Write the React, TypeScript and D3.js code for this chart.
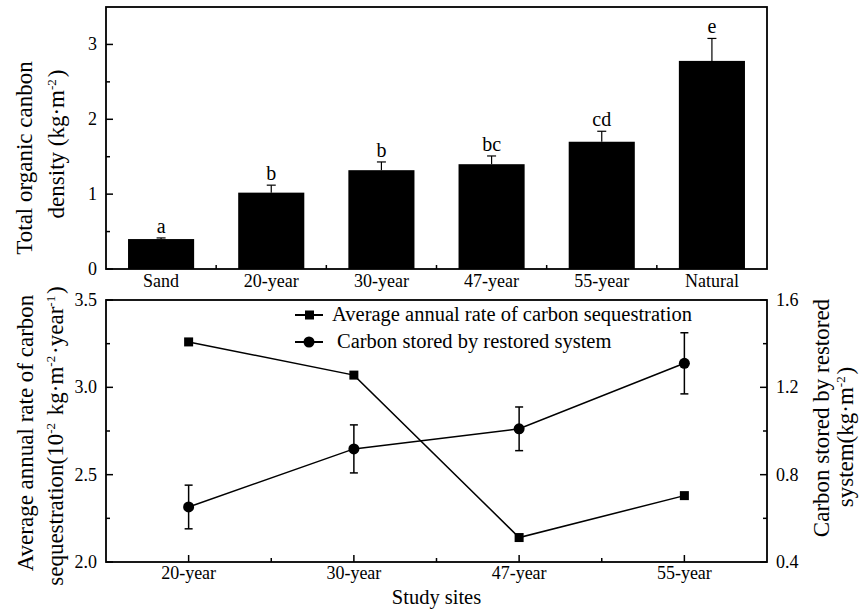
import React from "react";
import * as d3 from "d3";

// top panel: total organic carbon density
const barCategories = ["Sand", "20-year", "30-year", "47-year", "55-year", "Natural"];
const tocDensity = [0.4, 1.02, 1.32, 1.4, 1.7, 2.78];
const tocError = [0.015, 0.1, 0.11, 0.11, 0.14, 0.3];
const sigLetters = ["a", "b", "b", "bc", "cd", "e"];
const topTicks = [0, 1, 2, 3];
const topMinor = [0.5, 1.5, 2.5];

// bottom panel: rate of sequestration and stored carbon
const siteCategories = ["20-year", "30-year", "47-year", "55-year"];
const sequestrationRate = [3.26, 3.07, 2.14, 2.38];
const carbonStored = [0.652, 0.918, 1.01, 1.31];
const carbonStoredError = [0.1, 0.11, 0.1, 0.14];
const leftTicks = [2.0, 2.5, 3.0, 3.5];
const leftMinor = [2.25, 2.75, 3.25];
const rightTicks = [0.4, 0.8, 1.2, 1.6];
const rightMinor = [0.6, 1.0, 1.4];

const FONT = "'Liberation Serif', 'Times New Roman', serif";

const L = 106;
const R = 767;
const top1 = 7;
const bot1 = 269;
const top2 = 300;
const bot2 = 562;

const Sup = ({ children }: { children: string }) => (
  <>
    <tspan dy={-8} fontSize={13}>{children}</tspan>
    <tspan dy={8}>{"\u200a"}</tspan>
  </>
);

export default function App() {
  const xBar = d3.scaleBand().domain(barCategories).range([L, R]).paddingInner(0.4).paddingOuter(0.2);
  const yBar = d3.scaleLinear().domain([0, 3.5]).range([bot1, top1]);

  const xSite = d3.scalePoint().domain(siteCategories).range([L, R]).padding(0.5);
  const yLeft = d3.scaleLinear().domain([2.0, 3.5]).range([bot2, top2]);
  const yRight = d3.scaleLinear().domain([0.4, 1.6]).range([bot2, top2]);

  const barDividers = d3.range(1, barCategories.length).map((i) => L + i * (R - L) / barCategories.length);
  const siteMinor = siteCategories.slice(0, -1).map((c, i) => ((xSite(c) as number) + (xSite(siteCategories[i + 1]) as number)) / 2);

  const rateLine = d3
    .line<number>()
    .x((_, i) => xSite(siteCategories[i]) as number)
    .y((d) => yLeft(d));
  const storedLine = d3
    .line<number>()
    .x((_, i) => xSite(siteCategories[i]) as number)
    .y((d) => yRight(d));

  return (
    <svg
      width={859}
      height={613}
      style={{ position: "absolute", left: 0, top: 0, background: "#fff" }}
      fontFamily={FONT}
    >
      {/* ---------- top panel ---------- */}
      {barCategories.map((c, i) => {
        const x = xBar(c) as number;
        const cx = x + xBar.bandwidth() / 2;
        const yTop = yBar(tocDensity[i] + tocError[i]);
        return (
          <g key={c}>
            <rect x={x} y={yBar(tocDensity[i])} width={xBar.bandwidth()} height={bot1 - yBar(tocDensity[i])} fill="#000" />
            <line x1={cx} x2={cx} y1={yBar(tocDensity[i])} y2={yTop} stroke="#000" strokeWidth={1.2} />
            <line x1={cx - 4.5} x2={cx + 4.5} y1={yTop} y2={yTop} stroke="#000" strokeWidth={1.2} />
            <text x={cx} y={yTop - 5} textAnchor="middle" fontSize={20}>{sigLetters[i]}</text>
            <text x={cx} y={bot1 + 18} textAnchor="middle" fontSize={18}>{c}</text>
          </g>
        );
      })}
      {barDividers.map((x) => (
        <line key={x} x1={x} x2={x} y1={bot1} y2={bot1 - 4} stroke="#000" strokeWidth={1.5} />
      ))}
      {topTicks.map((t) => (
        <g key={t}>
          <line x1={L} x2={L + 7} y1={yBar(t)} y2={yBar(t)} stroke="#000" strokeWidth={1.5} />
          <text x={97} y={yBar(t) + 6} textAnchor="end" fontSize={18}>{t}</text>
        </g>
      ))}
      {topMinor.map((t) => (
        <line key={t} x1={L} x2={L + 4} y1={yBar(t)} y2={yBar(t)} stroke="#000" strokeWidth={1.5} />
      ))}
      <rect x={L} y={top1} width={R - L} height={bot1 - top1} fill="none" stroke="#000" strokeWidth={1.8} />
      <text transform={`translate(32,158) rotate(-90)`} textAnchor="middle" fontSize={23}>Total organic canbon</text>
      <text transform={`translate(64,144) rotate(-90)`} textAnchor="middle" fontSize={23}>
        density (kg·m<Sup>-2</Sup>)
      </text>

      {/* ---------- bottom panel ---------- */}
      <path d={rateLine(sequestrationRate) ?? ""} fill="none" stroke="#000" strokeWidth={1.5} />
      <path d={storedLine(carbonStored) ?? ""} fill="none" stroke="#000" strokeWidth={1.5} />
      {siteCategories.map((c, i) => {
        const cx = xSite(c) as number;
        const y0 = yRight(carbonStored[i] - carbonStoredError[i]);
        const y1 = yRight(carbonStored[i] + carbonStoredError[i]);
        return (
          <g key={c}>
            <line x1={cx} x2={cx} y1={y0} y2={y1} stroke="#000" strokeWidth={1.5} />
            <line x1={cx - 4} x2={cx + 4} y1={y0} y2={y0} stroke="#000" strokeWidth={1.5} />
            <line x1={cx - 4} x2={cx + 4} y1={y1} y2={y1} stroke="#000" strokeWidth={1.5} />
            <circle cx={cx} cy={yRight(carbonStored[i])} r={5.5} fill="#000" />
            <rect x={cx - 4.5} y={yLeft(sequestrationRate[i]) - 4.5} width={9} height={9} fill="#000" />
            <line x1={cx} x2={cx} y1={bot2} y2={bot2 - 7} stroke="#000" strokeWidth={1.5} />
            <text x={cx} y={bot2 + 17} textAnchor="middle" fontSize={18}>{c}</text>
          </g>
        );
      })}
      {siteMinor.map((x) => (
        <line key={x} x1={x} x2={x} y1={bot2} y2={bot2 - 4} stroke="#000" strokeWidth={1.5} />
      ))}
      {leftTicks.map((t) => (
        <g key={t}>
          <line x1={L} x2={L + 7} y1={yLeft(t)} y2={yLeft(t)} stroke="#000" strokeWidth={1.5} />
          <text x={97} y={yLeft(t) + 6} textAnchor="end" fontSize={18}>{d3.format(".1f")(t)}</text>
        </g>
      ))}
      {leftMinor.map((t) => (
        <line key={t} x1={L} x2={L + 4} y1={yLeft(t)} y2={yLeft(t)} stroke="#000" strokeWidth={1.5} />
      ))}
      {rightTicks.map((t) => (
        <g key={t}>
          <line x1={R} x2={R - 7} y1={yRight(t)} y2={yRight(t)} stroke="#000" strokeWidth={1.5} />
          <text x={776} y={yRight(t) + 6} textAnchor="start" fontSize={18}>{d3.format(".1f")(t)}</text>
        </g>
      ))}
      {rightMinor.map((t) => (
        <line key={t} x1={R} x2={R - 4} y1={yRight(t)} y2={yRight(t)} stroke="#000" strokeWidth={1.5} />
      ))}
      <rect x={L} y={top2} width={R - L} height={bot2 - top2} fill="none" stroke="#000" strokeWidth={1.8} />

      {/* legend */}
      <g>
        <line x1={295} x2={323} y1={315} y2={315} stroke="#000" strokeWidth={2} />
        <rect x={305} y={310.5} width={9} height={9} fill="#000" />
        <text x={332} y={321} fontSize={20.5}>Average annual rate of carbon sequestration</text>
        <line x1={295} x2={323} y1={342} y2={342} stroke="#000" strokeWidth={2} />
        <circle cx={309} cy={342} r={5.5} fill="#000" />
        <text x={337} y={348} fontSize={20.5}>Carbon stored by restored system</text>
      </g>

      {/* axis titles */}
      <text x={(L + R) / 2} y={604} textAnchor="middle" fontSize={20.5}>Study sites</text>
      <text transform={`translate(33,433) rotate(-90)`} textAnchor="middle" fontSize={23}>
        Average annual rate of carbon
      </text>
      <text transform={`translate(63,436) rotate(-90)`} textAnchor="middle" fontSize={23}>
        sequestration(10<Sup>-2</Sup> kg·m<Sup>-2</Sup>·year<Sup>-1</Sup>)
      </text>
      <text transform={`translate(829,418) rotate(-90)`} textAnchor="middle" fontSize={23}>
        Carbon stored by restored
      </text>
      <text transform={`translate(853,437) rotate(-90)`} textAnchor="middle" fontSize={23}>
        system(kg·m<Sup>-2</Sup>)
      </text>
    </svg>
  );
}
